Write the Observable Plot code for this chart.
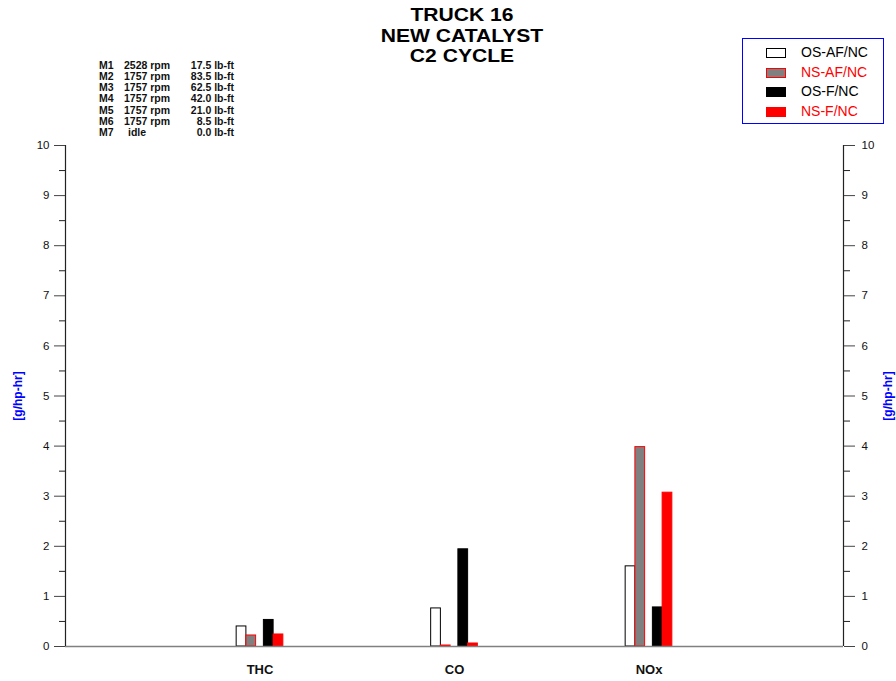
<!DOCTYPE html>
<html>
<head>
<meta charset="utf-8">
<script src="https://cdn.jsdelivr.net/npm/d3@7"></script>
<script src="https://cdn.jsdelivr.net/npm/@observablehq/plot@0.6"></script>
<style>
  html, body { margin: 0; padding: 0; background: #fff; }
  body { width: 896px; height: 681px; position: relative; overflow: hidden; font-family: "Liberation Sans", Arial, sans-serif; }
  #chart { position: absolute; left: 0; top: 0; }
  .title { position: absolute; left: 262px; width: 400px; top: 5px; text-align: center; font-weight: bold; font-size: 19px; line-height: 20.5px; color: #000; transform: scaleX(1.11); transform-origin: 200px 0; }
  .modes { position: absolute; left: 99px; top: 60px; font-weight: bold; font-size: 10.5px; line-height: 11.15px; color: #111; }
  .modes .row { position: relative; height: 11.15px; width: 135px; }
  .modes span { position: absolute; top: 0; white-space: nowrap; }
  .legend { position: absolute; left: 742px; top: 38px; width: 140px; height: 84px; border: 1px solid #0000ff; }
  .legend .item { position: absolute; left: 0; height: 16px; width: 140px; }
  .legend .sw { position: absolute; left: 23px; top: 3px; width: 18px; height: 8px; border: 1px solid; }
  .legend .lab { position: absolute; left: 58px; top: -1px; font-size: 14px; line-height: 16px; white-space: nowrap; }
</style>
</head>
<body>
<div id="chart"></div>
<div class="title" id="title"></div>
<div class="modes" id="modes"></div>
<div class="legend" id="legend"></div>
<script>
// ---- data ----
const titleLines = ["TRUCK 16", "NEW CATALYST", "C2 CYCLE"];
const categories = ["THC", "CO", "NOx"];
const seriesNames = ["OS-AF/NC", "NS-AF/NC", "OS-F/NC", "NS-F/NC"];
const osAF = [0.40, 0.76, 1.60];
const nsAF = [0.22, 0.02, 3.98];
const osF  = [0.53, 1.94, 0.78];
const nsF  = [0.24, 0.06, 3.07];
const modeNames = ["M1", "M2", "M3", "M4", "M5", "M6", "M7"];
const modeSpeeds = ["2528 rpm", "1757 rpm", "1757 rpm", "1757 rpm", "1757 rpm", "1757 rpm", "idle"];
const modeTorques = ["17.5 lb-ft", "83.5 lb-ft", "62.5 lb-ft", "42.0 lb-ft", "21.0 lb-ft", "8.5 lb-ft", "0.0 lb-ft"];
const yTicks = [0, 1, 2, 3, 4, 5, 6, 7, 8, 9, 10];
const yLabel = "[g/hp-hr]";

// ---- styles per series ----
const fills = ["#ffffff", "#808080", "#000000", "#ff0000"];
const strokes = ["#000000", "#ff0000", "#000000", "#ff0000"];
const textColors = ["#000000", "#ff0000", "#000000", "#ff0000"];
// slot edges within a category (in x units), gap in the middle
const slotEdges = [[-0.12, -0.07], [-0.07, -0.02], [0.02, 0.07], [0.07, 0.12]];

const seriesValues = [osAF, nsAF, osF, nsF];
const bars = [];
seriesValues.forEach((vals, s) => {
  vals.forEach((v, c) => bars.push({series: s, cat: c, value: v}));
});

const minorTicks = yTicks.slice(0, -1).map(t => t + 0.5);

const font = "Liberation Sans, Arial, sans-serif";

const plot = Plot.plot({
  width: 896,
  height: 681,
  marginLeft: 65,
  marginRight: 53,
  marginTop: 145,
  marginBottom: 35,
  style: {fontFamily: font, background: "transparent"},
  x: {type: "linear", domain: [0, 4], axis: null},
  y: {type: "linear", domain: [0, 10], axis: null},
  marks: [
    // bars
    Plot.rectY(bars, {
      x1: d => d.cat + 1 + slotEdges[d.series][0],
      x2: d => d.cat + 1 + slotEdges[d.series][1],
      y1: 0,
      y2: "value",
      fill: d => fills[d.series],
      stroke: d => strokes[d.series],
      strokeWidth: 1
    }),
    // baseline
    Plot.ruleY([0], {stroke: "#808080", strokeWidth: 1.5}),
    // left / right axis lines
    Plot.ruleX([0], {stroke: "#222", strokeWidth: 1.2}),
    Plot.ruleX([4], {stroke: "#222", strokeWidth: 1.2}),
    // left axis
    Plot.axisY(yTicks, {anchor: "left", label: null, tickSize: 11, tickPadding: 5, fontSize: 11.5, stroke: "#444", fill: "#111", tickFormat: d => d}),
    Plot.axisY(minorTicks, {anchor: "left", label: null, tickSize: 6, text: null, stroke: "#222"}),
    // right axis
    Plot.axisY(yTicks, {anchor: "right", label: null, tickSize: 11, tickPadding: 7, fontSize: 11.5, stroke: "#444", fill: "#111", tickFormat: d => d}),
    Plot.axisY(minorTicks, {anchor: "right", label: null, tickSize: 6, text: null, stroke: "#222"}),
    // category labels
    Plot.text(categories, {
      x: (d, i) => i + 1, y: 0, dy: 23, text: d => d,
      fontWeight: "bold", fontSize: 13, fill: "#111"
    }),
    // y labels
    Plot.text([yLabel], {frameAnchor: "left", textAnchor: "middle", dx: -47, rotate: -90, text: d => d, fontWeight: "bold", fontSize: 12, fill: "#0000ff"}),
    Plot.text([yLabel], {frameAnchor: "right", textAnchor: "middle", dx: 45, rotate: -90, text: d => d, fontWeight: "bold", fontSize: 12, fill: "#0000ff"})
  ]
});
document.getElementById("chart").appendChild(plot);

// title
document.getElementById("title").innerHTML = titleLines.map(t => `<div>${t}</div>`).join("");

// mode table
const modesEl = document.getElementById("modes");
modeNames.forEach((m, i) => {
  const row = document.createElement("div");
  row.className = "row";
  const isIdle = modeSpeeds[i] === "idle";
  row.innerHTML = `<span style="left:0">${m}</span>` +
    `<span style="left:${isIdle ? 29 : 25}px">${modeSpeeds[i]}</span>` +
    `<span style="right:0">${modeTorques[i]}</span>`;
  modesEl.appendChild(row);
});

// legend
const legendEl = document.getElementById("legend");
seriesNames.forEach((name, i) => {
  const it = document.createElement("div");
  it.className = "item";
  it.style.top = (6 + i * 19.5) + "px";
  it.innerHTML = `<div class="sw" style="background:${fills[i]};border-color:${strokes[i]}"></div>` +
    `<div class="lab" style="color:${textColors[i]}">${name}</div>`;
  legendEl.appendChild(it);
});
</script>
</body>
</html>
